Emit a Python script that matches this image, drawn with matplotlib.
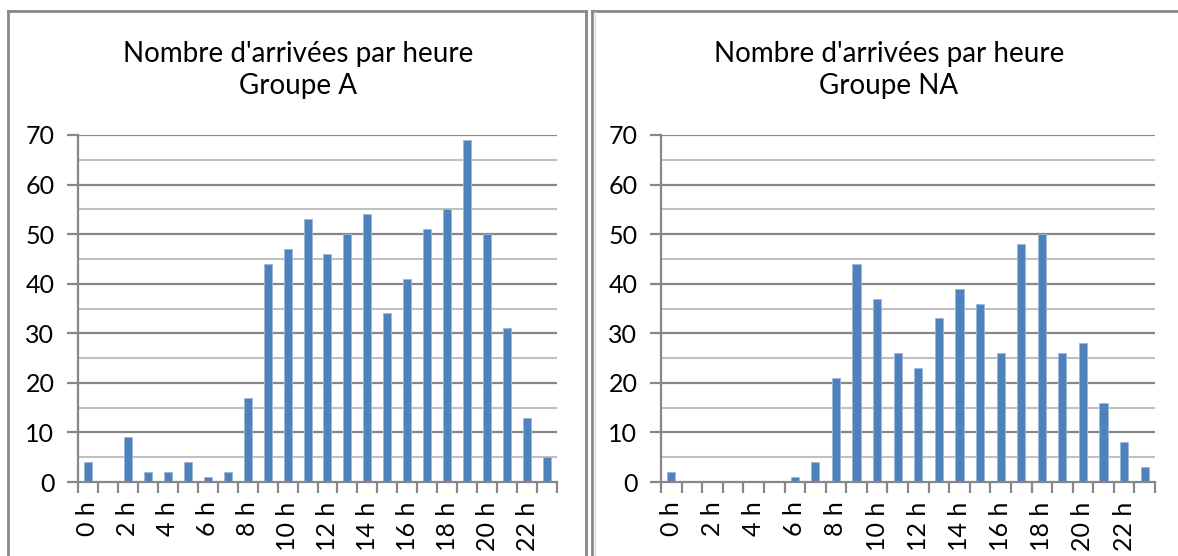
import matplotlib
matplotlib.use("Agg")
import matplotlib.pyplot as plt
from matplotlib.lines import Line2D
from matplotlib.ticker import MultipleLocator, FixedLocator

plt.rcParams['font.family'] = ['Lato', 'DejaVu Sans']

hours = ["0 h", "1 h", "2 h", "3 h", "4 h", "5 h", "6 h", "7 h", "8 h", "9 h", "10 h", "11 h",
         "12 h", "13 h", "14 h", "15 h", "16 h", "17 h", "18 h", "19 h", "20 h", "21 h", "22 h", "23 h"]
group_a = [4, 0, 9, 2, 2, 4, 1, 2, 17, 44, 47, 53, 46, 50, 54, 34, 41, 51, 55, 69, 50, 31, 13, 5]
group_na = [2, 0, 0, 0, 0, 0, 1, 4, 21, 44, 37, 26, 23, 33, 39, 36, 26, 48, 50, 26, 28, 16, 8, 3]
titles = ["Nombre d'arrivées par heure\nGroupe A", "Nombre d'arrivées par heure\nGroupe NA"]

W, H = 1178, 556
fig = plt.figure(figsize=(W / 100, H / 100), dpi=100)

BAR = '#4F81BD'
MAJ = '#878787'
MIN = '#C0C0C0'
FS = 18


def px_axes(x0, x1, y_top, y_bot):
    return fig.add_axes([x0 / W, 1 - y_bot / H, (x1 - x0) / W, (y_bot - y_top) / H])


def draw(ax, values, title, title_cx):
    n = len(values)
    x = list(range(n))
    ax.set_xlim(-0.5, n - 0.5)
    ax.set_ylim(0, 70)
    for y in range(5, 71, 10):
        ax.axhline(y, color=MIN, lw=1.5, zorder=0)
    for y in range(10, 71, 10):
        ax.axhline(y, color=MAJ, lw=1.6, zorder=0)
    ax.bar(x, values, width=0.4, color=BAR, edgecolor='#9DB7DA', linewidth=0.6, zorder=2)
    for s in ['top', 'right']:
        ax.spines[s].set_visible(False)
    for s in ['left', 'bottom']:
        ax.spines[s].set_color(MAJ)
        ax.spines[s].set_linewidth(1.6)
    ax.yaxis.set_major_locator(MultipleLocator(10))
    ax.tick_params(axis='y', length=8, width=1.6, color=MAJ, pad=9, labelsize=FS)
    ax.xaxis.set_major_locator(FixedLocator([i - 0.5 for i in range(n + 1)]))
    ax.xaxis.set_major_formatter(plt.NullFormatter())
    ax.xaxis.set_minor_locator(FixedLocator(x))
    ax.set_xticklabels([h if i % 2 == 0 else "" for i, h in enumerate(hours)], minor=True,
                       rotation=90, fontsize=FS, va='top', ha='center')
    ax.tick_params(axis='x', which='major', length=8, width=1.6, color=MAJ)
    ax.tick_params(axis='x', which='minor', length=0, pad=14)
    fig.text(title_cx / W, 1 - 70 / H, title, ha='center', va='center', fontsize=20,
             linespacing=1.3)


ax1 = px_axes(78, 557, 135, 482)
draw(ax1, group_a, titles[0], 298)
ax2 = px_axes(661, 1155, 135, 482)
draw(ax2, group_na, titles[1], 889)


def fline(xs, ys, **kw):
    fig.add_artist(Line2D([v / W for v in xs], [1 - v / H for v in ys], transform=fig.transFigure,
                          color=MAJ, lw=2, **kw))


fline([7.5, 7.5], [10.5, 560])
fline([7.5, 585.5], [10.5, 10.5])
fline([585.5, 585.5], [10.5, 560])
fline([591.5, 591.5], [10.5, 560])
fline([591.5, 1180], [10.5, 10.5])
fig.add_artist(Line2D([594.5 / W, 594.5 / W], [1 - 12 / H, 0], transform=fig.transFigure,
                      color='#E0E0E0', lw=1))

fig.savefig('out.png', dpi=100)
